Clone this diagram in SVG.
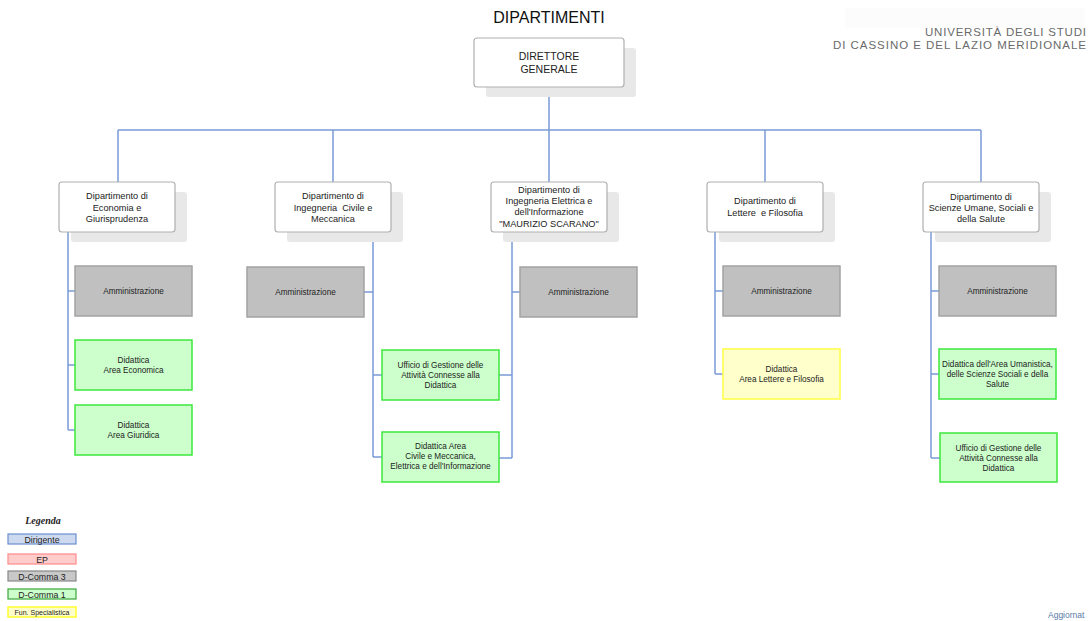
<svg xmlns="http://www.w3.org/2000/svg" width="1090" height="621" viewBox="0 0 1090 621">
<style>
text{font-family:"Liberation Sans",Arial,sans-serif;fill:#222;text-anchor:middle}
.conn{stroke:#7b9bd6;stroke-width:1.5;fill:none}
.shadow{fill:#e8e8e8}
.dept{fill:#fff;stroke:#b0b0b0;stroke-width:1.2}
.d{font-size:9.2px}
.s{font-size:8.2px}
.grey{fill:#c0c0c0;stroke:#a3a3a3;stroke-width:1.5}
.green{fill:#ccffcc;stroke:#3de83d;stroke-width:1.5}
.yellow{fill:#ffffcc;stroke:#ffff44;stroke-width:1.5}
.univ{font-size:11.5px;fill:#6a6a6a;text-anchor:end}
.leg{font-size:8.8px}
</style>
<rect width="1090" height="621" fill="#fff"/>
<text x="549" y="23" style="font-size:16px;fill:#111">DIPARTIMENTI</text>
<g id="logo">
<rect x="845" y="8" width="240" height="20" fill="#fcfcfc"/>
<text class="univ" x="1086" y="36" textLength="161" lengthAdjust="spacing">UNIVERSITÀ DEGLI STUDI</text>
<text class="univ" x="1086" y="49" textLength="253" lengthAdjust="spacing">DI CASSINO E DEL LAZIO MERIDIONALE</text>
</g>
<g id="connectors">
<path class="conn" d="M549 87V130M118 130H981M118 130V182M333 130V182M549 130V182M765 130V182M981 130V182"/>
<path class="conn" d="M68 232V430M68 291H75M68 365H75M68 430H75"/>
<path class="conn" d="M373 232V457M364 292H373M373 375H382M373 457H382"/>
<path class="conn" d="M512 232V458M512 292H520M499 375H512M499 458H512"/>
<path class="conn" d="M715 232V374M715 291H723M715 374H723"/>
<path class="conn" d="M931 232V458M931 291H939M931 374H939M931 458H940"/>
</g>
<g id="direttore">
<rect class="shadow" x="486" y="48" width="150" height="49" rx="3"/>
<rect class="dept" x="474" y="38" width="150" height="49" rx="3"/>
<text x="549" y="60" style="font-size:10.5px">DIRETTORE</text>
<text x="549" y="73" style="font-size:10.5px">GENERALE</text>
</g>
<g id="dip1">
<rect class="shadow" x="71" y="192" width="116" height="50" rx="3"/>
<rect class="dept" x="59" y="182" width="116" height="50" rx="3"/>
<text class="d" x="117" y="199">Dipartimento di</text>
<text class="d" x="117" y="211">Economia e</text>
<text class="d" x="117" y="222">Giurisprudenza</text>
</g>
<g id="dip2">
<rect class="shadow" x="287" y="192" width="116" height="50" rx="3"/>
<rect class="dept" x="275" y="182" width="116" height="50" rx="3"/>
<text class="d" x="333" y="199">Dipartimento di</text>
<text class="d" x="333" y="211" xml:space="preserve">Ingegneria  Civile e</text>
<text class="d" x="333" y="222">Meccanica</text>
</g>
<g id="dip3">
<rect class="shadow" x="503" y="192" width="116" height="50" rx="3"/>
<rect class="dept" x="491" y="182" width="116" height="50" rx="3"/>
<text class="d" x="549" y="193">Dipartimento di</text>
<text class="d" x="549" y="204">Ingegneria Elettrica e</text>
<text class="d" x="549" y="215">dell'Informazione</text>
<text class="d" x="549" y="227">"MAURIZIO SCARANO"</text>
</g>
<g id="dip4">
<rect class="shadow" x="719" y="192" width="116" height="50" rx="3"/>
<rect class="dept" x="707" y="182" width="116" height="50" rx="3"/>
<text class="d" x="765" y="204">Dipartimento di</text>
<text class="d" x="765" y="216" xml:space="preserve">Lettere  e Filosofia</text>
</g>
<g id="dip5">
<rect class="shadow" x="935" y="192" width="116" height="50" rx="3"/>
<rect class="dept" x="923" y="182" width="116" height="50" rx="3"/>
<text class="d" x="981" y="200">Dipartimento di</text>
<text class="d" x="981" y="211">Scienze Umane, Sociali e</text>
<text class="d" x="981" y="222">della Salute</text>
</g>
<g id="amm1"><rect class="grey" x="75" y="266" width="117" height="50"/><text class="s" x="133.5" y="294">Amministrazione</text></g>
<g id="did-eco"><rect class="green" x="75" y="340" width="117" height="50"/><text class="s" x="133.5" y="363">Didattica</text><text class="s" x="133.5" y="373">Area Economica</text></g>
<g id="did-giu"><rect class="green" x="75" y="405" width="117" height="50"/><text class="s" x="133.5" y="428">Didattica</text><text class="s" x="133.5" y="438">Area Giuridica</text></g>
<g id="amm2"><rect class="grey" x="247" y="267" width="117" height="50"/><text class="s" x="305.5" y="295">Amministrazione</text></g>
<g id="uff2"><rect class="green" x="382" y="350" width="117" height="50"/><text class="s" x="440.5" y="368">Ufficio di Gestione delle</text><text class="s" x="440.5" y="378">Attività Connesse alla</text><text class="s" x="440.5" y="388">Didattica</text></g>
<g id="did-civ"><rect class="green" x="382" y="432" width="117" height="50"/><text class="s" x="440.5" y="449">Didattica Area</text><text class="s" x="440.5" y="459">Civile e Meccanica,</text><text class="s" x="440.5" y="469">Elettrica e dell'Informazione</text></g>
<g id="amm3"><rect class="grey" x="520" y="267" width="117" height="50"/><text class="s" x="578.5" y="295">Amministrazione</text></g>
<g id="amm4"><rect class="grey" x="723" y="266" width="117" height="50"/><text class="s" x="781.5" y="294">Amministrazione</text></g>
<g id="did-let"><rect class="yellow" x="723" y="349" width="117" height="50"/><text class="s" x="781.5" y="372">Didattica</text><text class="s" x="781.5" y="382">Area Lettere e Filosofia</text></g>
<g id="amm5"><rect class="grey" x="939" y="266" width="117" height="50"/><text class="s" x="997.5" y="294">Amministrazione</text></g>
<g id="did-uma"><rect class="green" x="939" y="349" width="117" height="50"/><text class="s" x="997.5" y="367">Didattica dell'Area Umanistica,</text><text class="s" x="997.5" y="377">delle Scienze Sociali e della</text><text class="s" x="997.5" y="387">Salute</text></g>
<g id="uff5"><rect class="green" x="940" y="433" width="117" height="49"/><text class="s" x="998.5" y="451">Ufficio di Gestione delle</text><text class="s" x="998.5" y="461">Attività Connesse alla</text><text class="s" x="998.5" y="471">Didattica</text></g>
<g id="legenda">
<text x="43" y="524" style="font-family:'Liberation Serif',serif;font-style:italic;font-weight:bold;font-size:10px">Legenda</text>
<rect x="8" y="534" width="68" height="10" fill="#ccd9ee" stroke="#6a8fd0" stroke-width="1.2"/><text class="leg" x="42" y="542.5">Dirigente</text>
<rect x="8" y="554" width="68" height="10" fill="#ffcccc" stroke="#ff8a8a" stroke-width="1.2"/><text class="leg" x="42" y="562.5">EP</text>
<rect x="8" y="571" width="68" height="10" fill="#c8c8c8" stroke="#888" stroke-width="1.2"/><text class="leg" x="42" y="579.5">D-Comma 3</text>
<rect x="8" y="589" width="68" height="10" fill="#ccffcc" stroke="#3aa63a" stroke-width="1.2"/><text class="leg" x="42" y="597.5">D-Comma 1</text>
<rect x="8" y="607" width="68" height="10" fill="#ffffcc" stroke="#ffff00" stroke-width="1.2"/><text class="leg" x="42" y="614.5" style="font-size:7px">Fun. Specialistica</text>
</g>
<text x="1048" y="618" style="font-size:8.5px;fill:#5a7aa8;text-anchor:start">Aggiornat</text>
</svg>
